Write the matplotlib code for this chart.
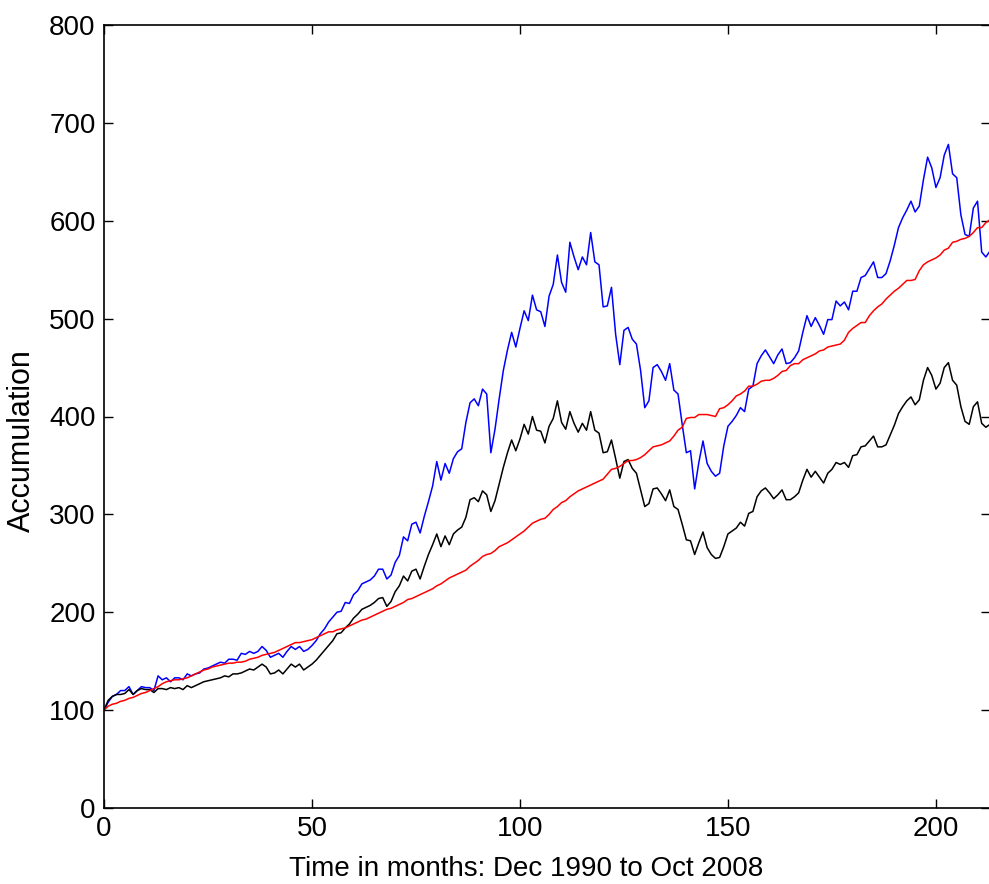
import matplotlib
matplotlib.use("Agg")
import matplotlib.pyplot as plt
import numpy as np

# monthly accumulation, Dec 1990 (month 0) to Oct 2008 (month 213)
blue_vals = [
    100, 108, 114, 116, 120, 120, 124, 116, 120, 124,
    123, 123, 120, 135, 131, 133, 129, 133, 133, 131,
    137, 135, 137, 138, 142, 143, 145, 147, 149, 148,
    152, 152, 151, 158, 157, 160, 158, 160, 165, 161,
    154, 156, 158, 154, 160, 165, 162, 165, 160, 162,
    166, 171, 178, 183, 190, 195, 200, 201, 210, 209,
    218, 222, 229, 231, 233, 237, 244, 244, 234, 238,
    251, 258, 277, 273, 290, 292, 281, 298, 313, 329,
    354, 335, 352, 342, 357, 364, 367, 394, 414, 418,
    411, 428, 423, 363, 387, 418, 447, 468, 486, 471,
    490, 508, 498, 524, 509, 507, 492, 523, 535, 565,
    537, 527, 578, 563, 550, 563, 555, 588, 558, 555,
    512, 513, 532, 484, 453, 488, 491, 479, 474, 447,
    409, 416, 450, 453, 446, 437, 454, 427, 423, 392,
    363, 365, 326, 353, 375, 352, 344, 339, 342, 370,
    390, 395, 401, 409, 405, 428, 431, 454, 462, 468,
    461, 454, 463, 469, 454, 455, 460, 467, 486, 503,
    492, 501, 493, 484, 499, 499, 518, 513, 517, 509,
    528, 528, 542, 544, 551, 558, 542, 542, 546, 559,
    575, 593, 603, 611, 620, 609, 615, 642, 665, 654,
    634, 644, 667, 678, 648, 644, 606, 586, 584, 613,
    620, 568, 563, 569,
]

black_vals = [
    100, 110, 114, 116, 116, 117, 121, 116, 120, 122,
    121, 121, 118, 122, 122, 121, 123, 122, 123, 121,
    125, 123, 125, 127, 129, 130, 131, 132, 133, 135,
    134, 137, 137, 138, 140, 142, 141, 144, 147, 144,
    137, 138, 141, 137, 142, 147, 144, 147, 141, 144,
    147, 151, 156, 161, 166, 171, 178, 179, 184, 188,
    194, 198, 203, 205, 207, 210, 214, 215, 206, 211,
    221, 227, 237, 232, 242, 244, 234, 247, 259, 269,
    280, 267, 278, 269, 280, 284, 287, 297, 315, 317,
    313, 324, 320, 303, 314, 331, 348, 363, 376, 365,
    377, 392, 382, 400, 386, 385, 373, 390, 398, 416,
    394, 387, 405, 393, 384, 393, 386, 405, 386, 383,
    363, 364, 376, 357, 337, 354, 356, 347, 342, 325,
    308, 311, 326, 327, 321, 314, 325, 308, 305, 290,
    274, 273, 259, 271, 282, 266, 259, 255, 256, 267,
    280, 283, 286, 292, 288, 301, 303, 318, 324, 327,
    322, 316, 320, 325, 315, 315, 318, 322, 335, 346,
    338, 344, 338, 332, 342, 346, 353, 351, 353, 348,
    360, 361, 369, 370, 375, 380, 369, 369, 371, 381,
    391, 403, 410, 416, 420, 412, 417, 437, 450, 442,
    428, 434, 450, 455, 437, 432, 410, 395, 392, 410,
    415, 393, 389, 392,
]

red_vals = [
    100, 104, 106, 107, 109, 110, 112, 113, 115, 117,
    118, 120, 122, 124, 127, 129, 130, 131, 131, 132,
    133, 135, 137, 139, 141, 142, 144, 145, 146, 147,
    148, 148, 149, 149, 150, 152, 153, 154, 156, 157,
    158, 159, 161, 163, 165, 167, 169, 169, 170, 171,
    172, 174, 176, 178, 180, 180, 182, 183, 184, 186,
    188, 190, 192, 193, 195, 197, 199, 201, 203, 204,
    206, 208, 210, 213, 214, 216, 218, 220, 222, 224,
    227, 229, 232, 235, 237, 239, 241, 243, 247, 250,
    253, 257, 259, 260, 263, 267, 269, 271, 274, 277,
    280, 283, 287, 291, 293, 295, 296, 300, 305, 308,
    312, 314, 318, 321, 324, 326, 328, 330, 332, 334,
    336, 341, 346, 347, 349, 352, 355, 355, 356, 358,
    361, 365, 369, 370, 371, 373, 375, 380, 386, 389,
    398, 399, 399, 402, 402, 402, 401, 400, 408, 409,
    412, 416, 421, 423, 426, 431, 431, 433, 436, 437,
    437, 439, 442, 446, 447, 452, 454, 454, 458, 460,
    462, 464, 467, 468, 471, 472, 473, 474, 478, 486,
    490, 493, 496, 496, 503, 508, 512, 515, 520, 524,
    528, 531, 535, 539, 539, 540, 549, 555, 558, 560,
    562, 565, 570, 572, 578, 579, 581, 582, 584, 588,
    593, 593, 598, 601,
]

months = np.arange(len(blue_vals))

plt.rcParams['font.family'] = ['Liberation Sans', 'DejaVu Sans']

fig = plt.figure(figsize=(9.89, 8.84), dpi=100)
ax = fig.add_axes([104 / 989, 76 / 884, 886 / 989, 783 / 884])

ax.plot(months, blue_vals, color=(0, 0, 1), lw=1.1)
ax.plot(months, black_vals, color='k', lw=1.1)
ax.plot(months, red_vals, color=(1, 0, 0), lw=1.1)

ax.set_xlim(0, 213)
ax.set_ylim(0, 800)
ax.set_xticks([0, 50, 100, 150, 200])
ax.set_yticks(np.arange(0, 801, 100))
ax.tick_params(direction='in', length=6.5, width=1, labelsize=20, pad=6,
               top=True, right=True)
for s in ax.spines.values():
    s.set_linewidth(1.2)

ax.set_xlabel('Time in months: Dec 1990 to Oct 2008', fontsize=20)
ax.set_ylabel('Accumulation', fontsize=22)
ax.xaxis.set_label_coords(0.476, -0.061)
ax.yaxis.set_label_coords(-0.076, 0.469)

fig.savefig('out.png', dpi=100)
